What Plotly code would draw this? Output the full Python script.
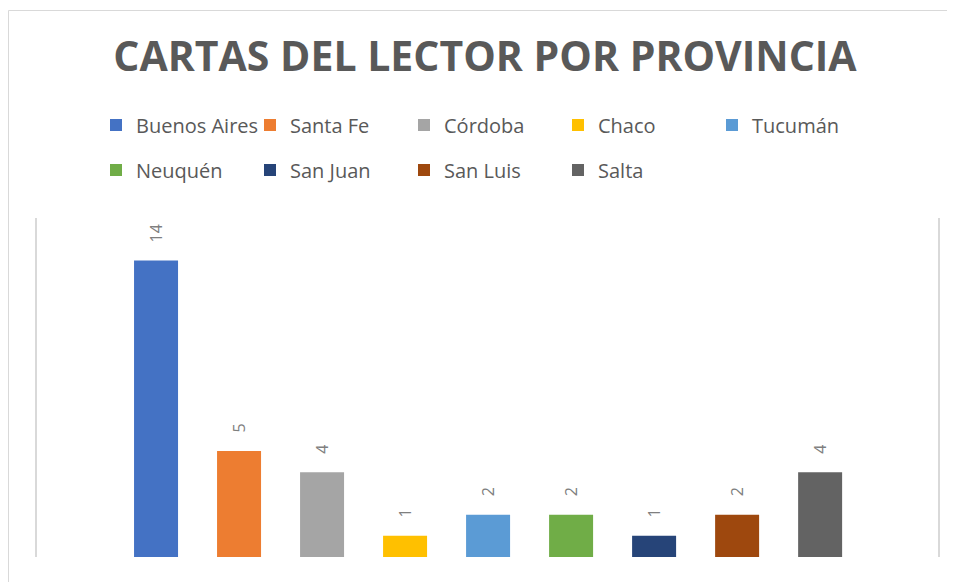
import plotly.graph_objects as go

provinces = ["Buenos Aires", "Santa Fe", "Córdoba", "Chaco", "Tucumán",
             "Neuquén", "San Juan", "San Luis", "Salta"]
cartas = [14, 5, 4, 1, 2, 2, 1, 2, 4]
colors = ["#4472C4", "#ED7D31", "#A5A5A5", "#FFC000", "#5B9BD5",
          "#70AD47", "#264478", "#9E480E", "#636363"]

# page has an 8px body margin; figure sized to fit the window
OFF = 8
W, H = 955 - OFF, 582 - OFF
ml, mr, mt, mb = 37 - OFF, 17, 218 - OFF, 25
pw, ph = W - ml - mr, H - mt - mb

fig = go.Figure()
for i, (p, v, c) in enumerate(zip(provinces, cartas, colors)):
    fig.add_trace(go.Bar(
        x=[i], y=[v], name=p, marker=dict(color=c, line=dict(width=0)),
        width=0.53, legend="legend" if i < 5 else "legend2",
        hoverinfo="skip",
    ))
    fig.add_annotation(
        x=i, y=v, text=str(v), showarrow=False, textangle=-90,
        yanchor="bottom", xanchor="center", yshift=16,
        font=dict(family="Open Sans", size=16, color="#7f7f7f"),
    )

legend_common = dict(
    orientation="h", xref="container", yref="container",
    entrywidth=109, entrywidthmode="pixels",
    font=dict(family="Open Sans", size=20, color="#595959"),
    bgcolor="rgba(0,0,0,0)", itemclick=False, itemdoubleclick=False,
    xanchor="left", yanchor="middle",
)

fig.update_layout(
    width=W, height=H,
    margin=dict(l=ml, r=mr, t=mt, b=mb),
    paper_bgcolor="white", plot_bgcolor="white",
    barmode="overlay",
    title=dict(
        text="<b>CARTAS DEL LECTOR POR PROVINCIA</b>",
        x=(485 - OFF) / W, xanchor="center", xref="container",
        y=1 - (57 - OFF) / H, yanchor="middle", yref="container",
        font=dict(family="Open Sans", size=41, color="#595959"),
    ),
    legend=dict(x=(96 - OFF) / W, y=1 - (125 - OFF) / H, **legend_common),
    legend2=dict(x=(96 - OFF) / W, y=1 - (170 - OFF) / H, **legend_common),
    xaxis=dict(range=[-1.434, 9.42], showticklabels=False, ticks="",
               showgrid=False, zeroline=False, showline=False, fixedrange=True),
    yaxis=dict(range=[0, 16], showticklabels=False, ticks="",
               showgrid=False, zeroline=False, showline=True, mirror=True,
               linecolor="#d9d9d9", linewidth=1.5, fixedrange=True),
    showlegend=True,
)

# outer chart border (top and left edges visible)
fig.add_shape(type="rect", xref="paper", yref="paper",
              x0=(0.5 - ml) / pw, x1=1.2, y0=-0.5, y1=(H - mb - 2.5) / ph,
              line=dict(color="#d9d9d9", width=1), layer="below")

fig.write_html("out.html", config={"displayModeBar": False})
